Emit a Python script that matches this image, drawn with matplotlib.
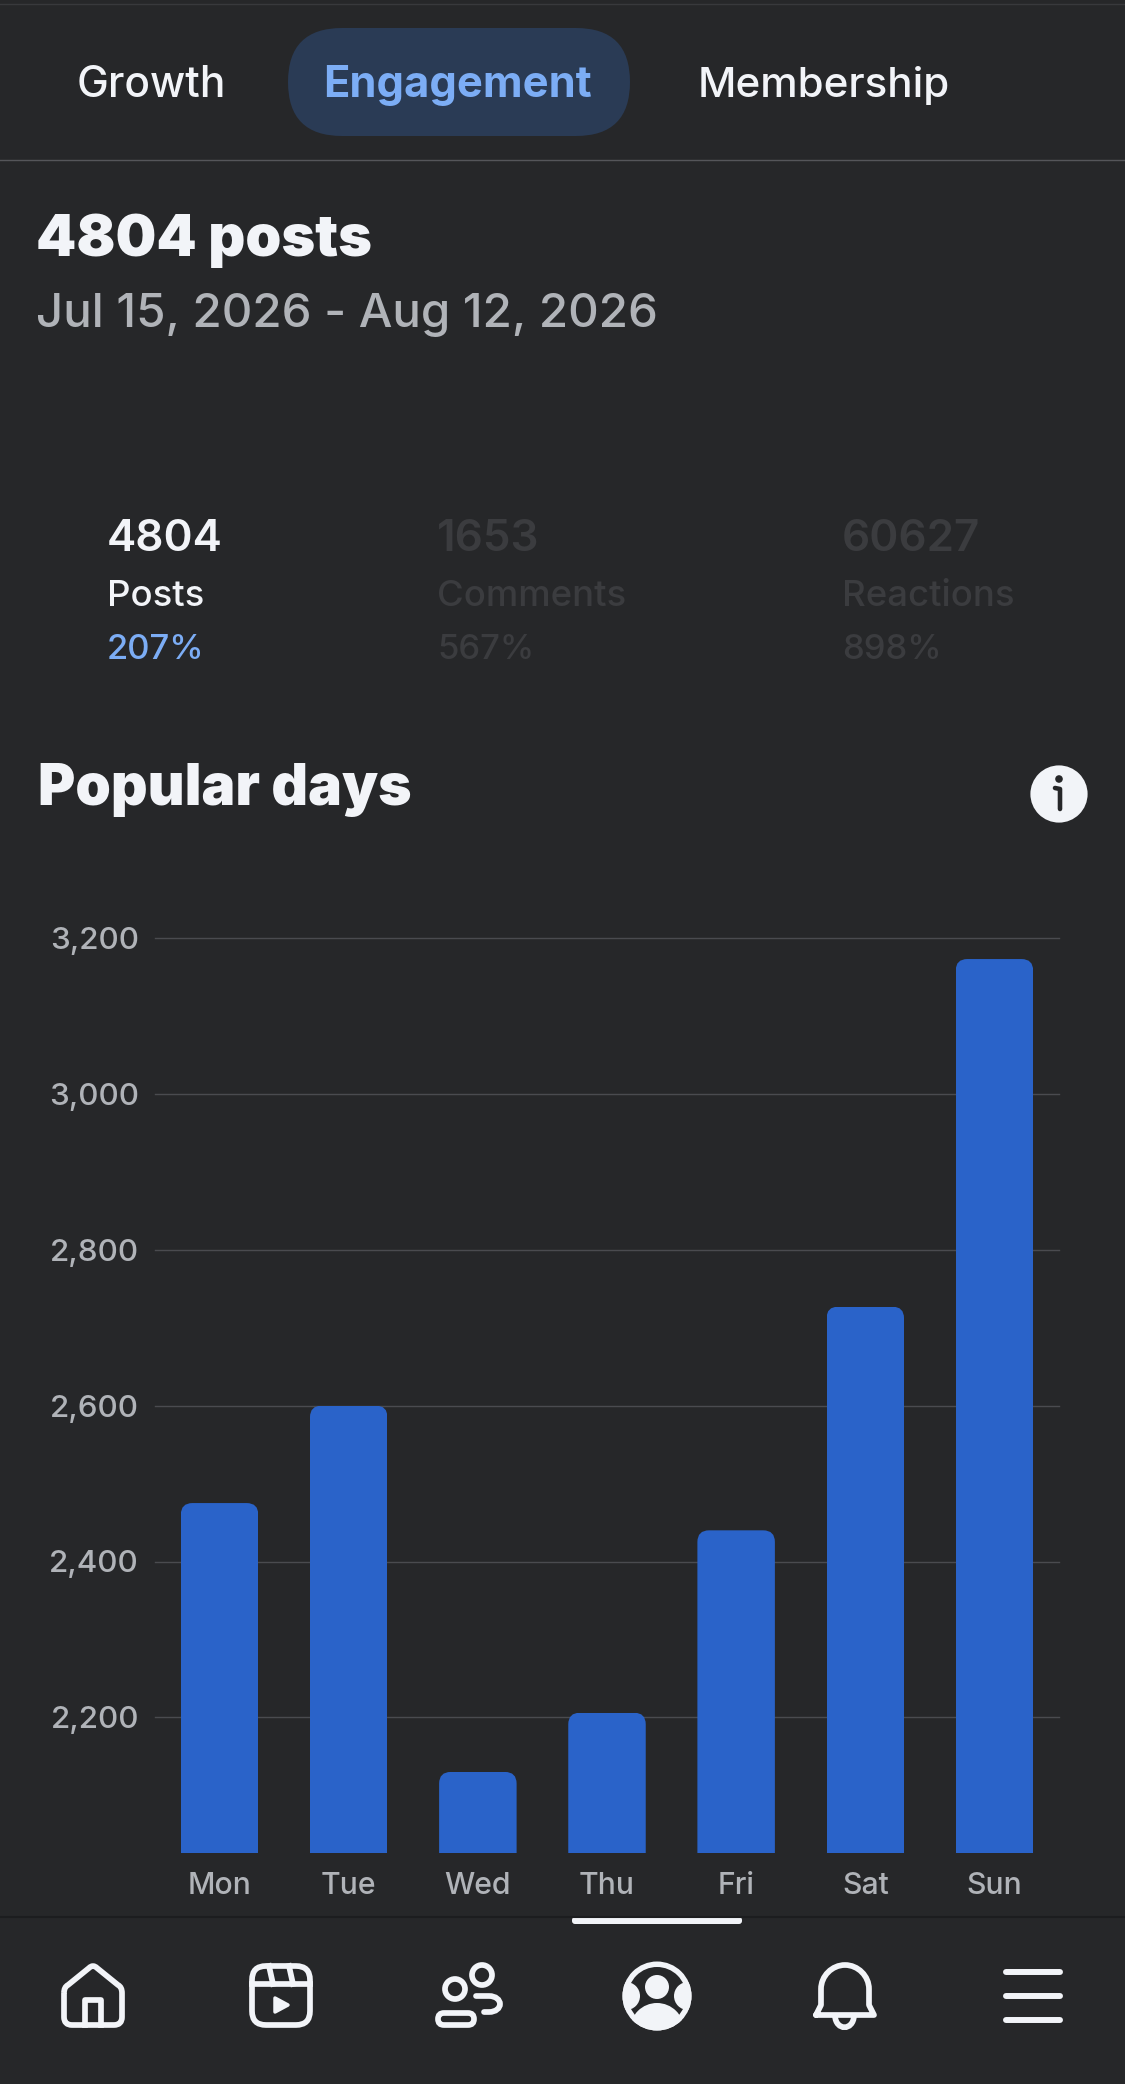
import numpy as np
import matplotlib
matplotlib.use('Agg')
import matplotlib.pyplot as plt
from matplotlib.patches import FancyBboxPatch, Circle, PathPatch, Polygon
from matplotlib.path import Path
from matplotlib.transforms import ScaledTranslation, IdentityTransform

plt.rcParams['font.family'] = ['Inter', 'DejaVu Sans']

# chart data
days = ['Mon', 'Tue', 'Wed', 'Thu', 'Fri', 'Sat', 'Sun']
posts = [2475, 2600, 2130, 2206, 2440, 2727, 3173]
y_ticks = [2200, 2400, 2600, 2800, 3000, 3200]
y_tick_labels = ['2,200', '2,400', '2,600', '2,800', '3,000', '3,200']

tabs = ['Growth', 'Engagement', 'Membership']
stat_numbers = ['4804', '1653', '60627']
stat_names = ['Posts', 'Comments', 'Reactions']
stat_pcts = ['207%', '567%', '898%']

BG = '#262729'
WHITE = '#f2f4f8'
GREY = '#b0b3b8'
MUTED = '#3b3c3f'
BLUE = '#7cadf5'
BAR = '#2a63c9'
W, H = 1125, 2084


def px(size):
    # font size in pixels to points at dpi 100
    return size * 0.72


fig = plt.figure(figsize=(W / 100, H / 100), dpi=100, facecolor=BG)

# full page axes in pixel coords for the app chrome
ui = fig.add_axes([0, 0, 1, 1], zorder=0)
ui.set_xlim(0, W)
ui.set_ylim(H, 0)
ui.axis('off')

ui.plot([0, W], [4, 4], color='#38393c', lw=1)
ui.add_patch(FancyBboxPatch((288, 28), 342, 108, boxstyle='round,pad=0,rounding_size=54',
                            fc='#2a3b55', ec='none', mutation_aspect=1))
ui.plot([0, W], [160, 160], color='#55565a', lw=1)

ui.text(77, 97, tabs[0], color=WHITE, fontsize=px(42.5), fontweight='medium')
ui.text(323, 97, tabs[1], color=BLUE, fontsize=px(43.5), fontweight='bold')
ui.text(698, 97, tabs[2], color=WHITE, fontsize=px(42.2), fontweight='medium')

ui.text(36, 256, '4804 posts', color=WHITE, fontsize=px(57.5), fontweight='black')
ui.text(36, 327, 'Jul 15, 2026 - Aug 12, 2026', color=GREY, fontsize=px(47.5), fontweight='medium')

stat_x = [107, 437, 842]
stat_cols = [WHITE, MUTED, MUTED]
pct_cols = [BLUE, MUTED, MUTED]
for i in range(3):
    ui.text(stat_x[i], 551, stat_numbers[i], color=stat_cols[i], fontsize=px(44), fontweight='semibold')
    ui.text(stat_x[i], 606, stat_names[i], color=stat_cols[i], fontsize=px(36.5), fontweight='medium')
    ui.text(stat_x[i], 659, stat_pcts[i], color=pct_cols[i], fontsize=px(34.6), fontweight='medium')

ui.text(38, 805, 'Popular days', color=WHITE, fontsize=px(56.8), fontweight='black')

# info icon
ui.add_patch(Circle((1059, 794), 28.6, fc=WHITE, ec='none'))
ui.add_patch(Circle((1059, 779), 3.8, fc=BG, ec='none'))
ui.plot([1055, 1060, 1060], [788, 789, 809], color=BG, lw=3.3, solid_capstyle='round')

# bottom bar
ui.plot([0, W], [1917, 1917], color='#1c1d1f', lw=1.5)
ui.add_patch(FancyBboxPatch((572, 1917), 170, 7, boxstyle='round,pad=0,rounding_size=3',
                            fc=WHITE, ec='none'))

lw = 4.1
# home
home = Path([(64, 1993), (64, 1987), (68, 1985), (89, 1968), (93, 1964), (97, 1968), (118, 1985),
             (122, 1987), (122, 1993), (122, 2017), (122, 2025), (114, 2025),
             (72, 2025), (64, 2025), (64, 2017), (64, 1993)],
            [1, 3, 3, 2, 3, 3, 2, 3, 3, 2, 3, 3, 2, 3, 3, 2])
ui.add_patch(PathPatch(home, fc='none', ec=WHITE, lw=lw, joinstyle='round'))
ui.plot([85, 85, 101, 101], [2025, 2000, 2000, 2025], color=WHITE, lw=lw, solid_joinstyle='round')

# reels
ui.add_patch(FancyBboxPatch((252, 1966), 58, 59, boxstyle='round,pad=0,rounding_size=14',
                            fc='none', ec=WHITE, lw=lw))
ui.plot([252, 310], [1984, 1984], color=WHITE, lw=lw)
ui.plot([269, 273], [1966, 1984], color=WHITE, lw=lw)
ui.plot([289, 293], [1966, 1984], color=WHITE, lw=lw)
ui.add_patch(Polygon([(275, 1998), (275, 2012), (288, 2005)], closed=True, fc=WHITE, ec=WHITE,
                     lw=2.5, joinstyle='round'))

# friends
ui.add_patch(Circle((455, 1989), 10, fc='none', ec=WHITE, lw=lw))
ui.add_patch(Circle((482, 1975), 10, fc='none', ec=WHITE, lw=lw))
ui.add_patch(FancyBboxPatch((438, 2013), 36, 12, boxstyle='round,pad=0,rounding_size=6',
                            fc='none', ec=WHITE, lw=lw))
body = Path([(476, 1996), (489, 1996), (496, 1996), (500, 2000), (500, 2004),
             (500, 2008), (496, 2012), (489, 2012), (484, 2012)],
            [1, 2, 4, 4, 4, 4, 4, 4, 2])
ui.add_patch(PathPatch(body, fc='none', ec=WHITE, lw=lw, capstyle='round'))

# profile
disc = Circle((657, 1996), 34.5, fc=WHITE, ec='none')
ui.add_patch(disc)
ui.add_patch(Circle((657, 1996), 29, fc=BG, ec='none'))
for c in [(626, 1996), (688, 1996), (657, 2030)]:
    r = 27 if c[0] == 657 else 14
    lobe = Circle(c, r, fc=WHITE, ec='none')
    ui.add_patch(lobe)
    lobe.set_clip_path(disc)
ui.add_patch(Circle((657, 1987), 12, fc=WHITE, ec='none'))

# bell
bell = Path([(816, 2015), (821, 2005), (821, 1989), (821, 1976), (832, 1965), (845, 1965),
             (858, 1965), (869, 1976), (869, 1989), (869, 2005), (874, 2015), (816, 2015)],
            [1, 2, 2, 4, 4, 4, 4, 4, 4, 2, 2, 2])
ui.add_patch(PathPatch(bell, fc='none', ec=WHITE, lw=lw, joinstyle='round', capstyle='round'))
clap = Path([(835, 2016), (836, 2031), (853, 2031), (854, 2016)], [1, 4, 4, 4])
ui.add_patch(PathPatch(clap, fc='none', ec=WHITE, lw=lw))

# menu
for y in [1972, 1996, 2020]:
    ui.plot([1006, 1060], [y, y], color=WHITE, lw=4.3, solid_capstyle='round')

# the chart itself, band 155..1059 px, baseline 1853, top gridline 938
ax = fig.add_axes([155 / W, 1 - 1853 / H, 904 / W, 915 / H], zorder=1)
ax.patch.set_alpha(0)
x = np.arange(len(days))
bars = ax.bar(x, posts, width=0.6, color=BAR, zorder=2)
ax.set_xlim(-0.5, 6.5)
ax.set_ylim(2026, 3200)

# rounded tops: clip each bar with a rounded box, corner about 12 px
unit_ratio = (904 / 7) / (915 / (3200 - 2026))
for b in bars:
    clip = FancyBboxPatch((b.get_x(), 1900), b.get_width(), b.get_height() - 1900,
                          boxstyle='round,pad=0,rounding_size=0.09', mutation_aspect=unit_ratio,
                          transform=ax.transData)
    b.set_clip_path(clip)

ax.set_yticks(y_ticks)
ax.set_yticklabels(y_tick_labels)
ax.set_xticks(x)
ax.set_xticklabels(days)
ax.tick_params(axis='y', length=0, pad=11.5, labelcolor=GREY, labelsize=px(31.4))
ax.tick_params(axis='x', length=0, pad=14, labelcolor=GREY, labelsize=px(30.2))
for lab in ax.get_xticklabels() + ax.get_yticklabels():
    lab.set_fontweight('medium')
# y labels sit a little above their gridline
nudge = ScaledTranslation(0, 2 / 100, IdentityTransform())
for lab in ax.get_yticklabels():
    lab.set_verticalalignment('center_baseline')
    lab.set_transform(lab.get_transform() + nudge)
ax.grid(axis='y', color='#4a4b4f', lw=1, zorder=1)
for g in ax.get_ygridlines():
    g.set_clip_on(False)
for s in ax.spines.values():
    s.set_visible(False)

fig.savefig('out.png', dpi=100, facecolor=BG)
